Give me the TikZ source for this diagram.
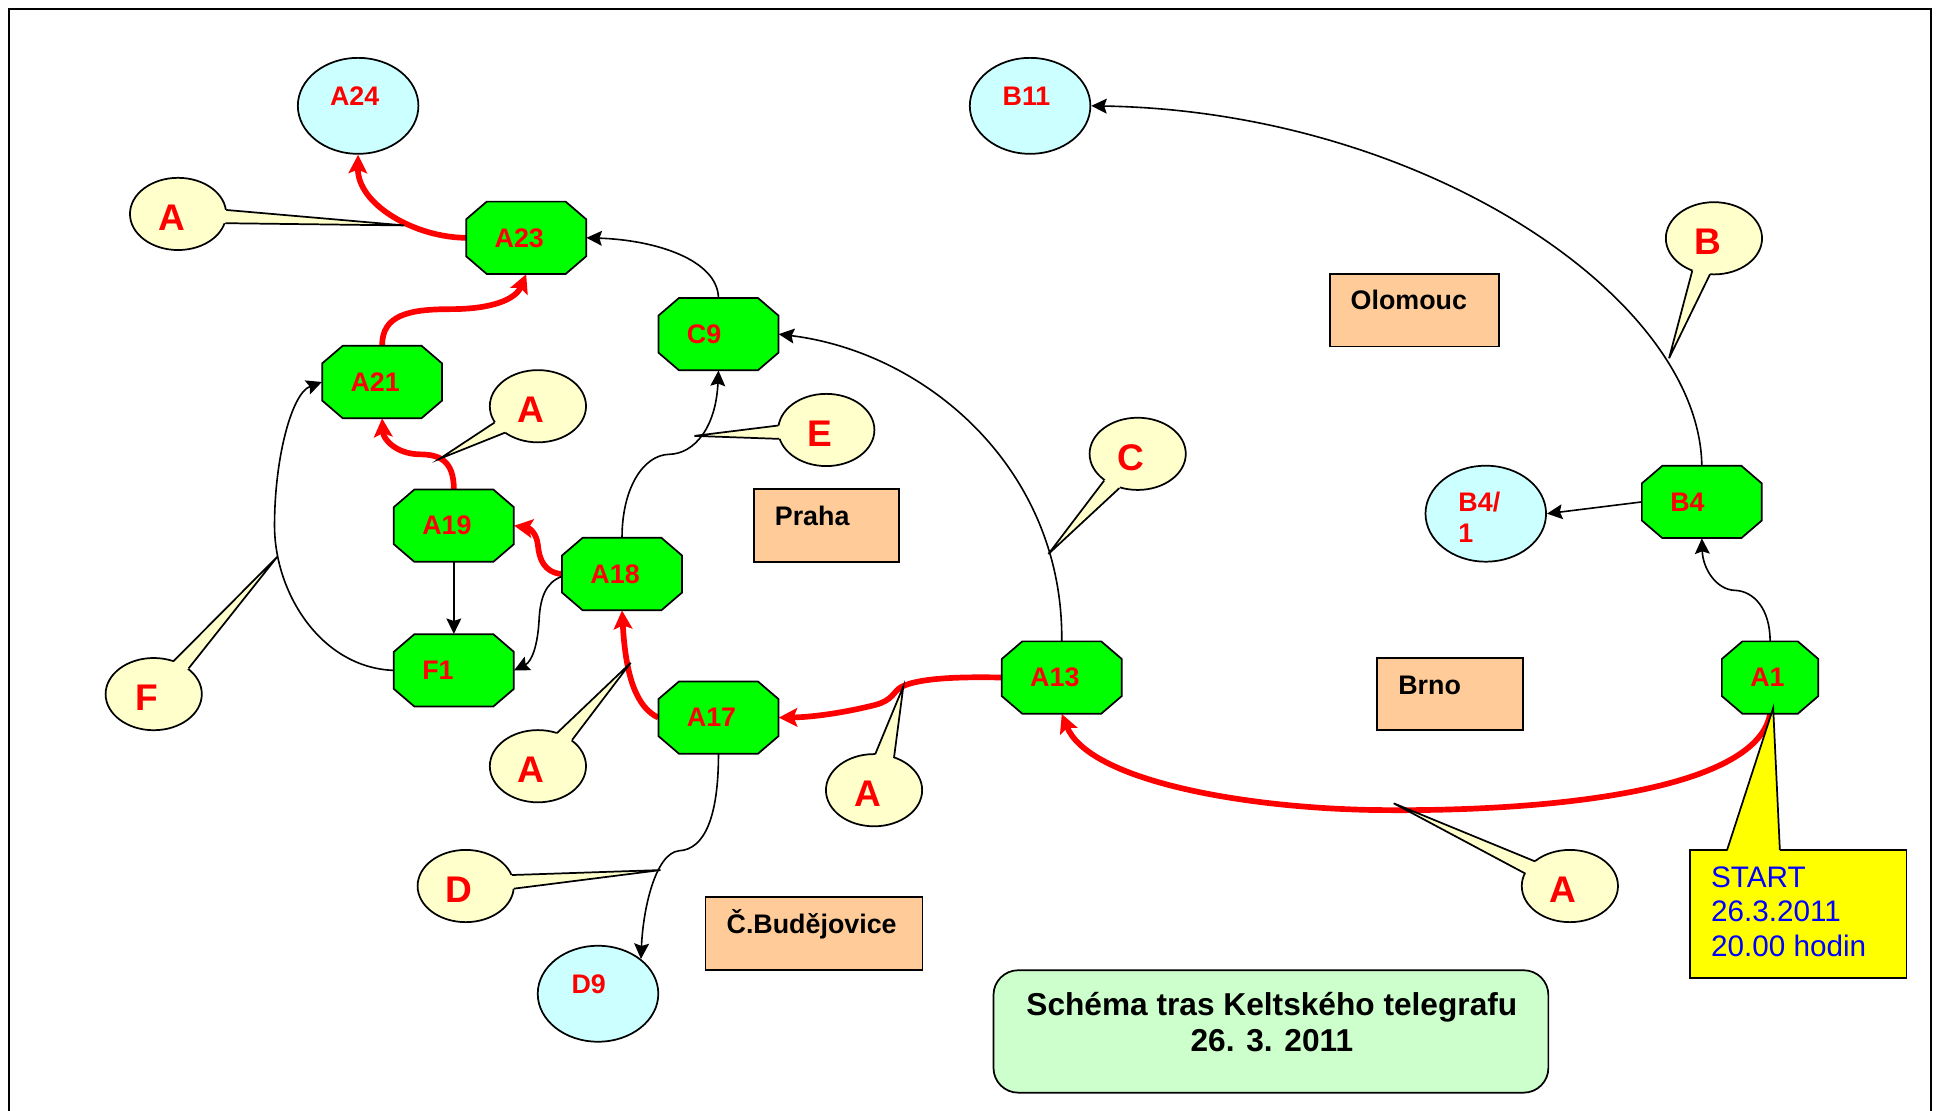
\documentclass[tikz,border=0pt]{standalone}
\usepackage{fontspec}
\setmainfont{Liberation Sans}
\usetikzlibrary{arrows.meta,shapes.geometric,calc}
\definecolor{octgreen}{HTML}{00FF00}
\definecolor{circfill}{HTML}{CCFFFF}
\definecolor{bubfill}{HTML}{FFFFCC}
\definecolor{cityfill}{HTML}{FFCC99}
\definecolor{titlefill}{HTML}{CCFFCC}
\definecolor{startfill}{HTML}{FFFF00}
\definecolor{startblue}{HTML}{0000FF}
\definecolor{lblred}{HTML}{FF0000}
\pgfdeclarelayer{bg}
\pgfsetlayers{bg,main}
\tikzset{
  octshape/.style={fill=octgreen, draw=black, line width=1.4pt, line join=miter},
  octbox/.style={rectangle, inner sep=0pt, minimum height=58.5pt},
  octtext/.style={anchor=west, inner sep=0pt, text=lblred, font=\fontsize{21.7}{26}\selectfont\bfseries},
  circ/.style={ellipse, fill=circfill, draw=black, line width=1.4pt, inner sep=0pt, minimum width=97.5pt, minimum height=77.6pt},
  circtext/.style={anchor=base west, inner sep=0pt, text=lblred, font=\fontsize{21.7}{24.5}\selectfont\bfseries},
  bub/.style={ellipse, fill=bubfill, draw=black, line width=1.4pt, inner sep=0pt, minimum width=77.8pt, minimum height=58.4pt},
  bubpoly/.style={fill=bubfill},
  bubline/.style={draw=black, line width=1.4pt},
  bubtext/.style={inner sep=0pt, text=lblred, font=\fontsize{30}{36}\selectfont\bfseries},
  city/.style={rectangle, fill=cityfill, draw=black, line width=1.4pt, inner sep=0pt},
  citytext/.style={anchor=base west, inner sep=0pt, font=\fontsize{21.7}{26}\selectfont\bfseries},
  redarr/.style={draw=red, line width=4.6pt, -{Stealth[length=15pt,width=15pt,inset=3pt]}},
  blackarr/.style={draw=black, line width=1.3pt, -{Stealth[length=12.5pt,width=12pt,inset=2pt]}},
  frameline/.style={draw=black, line width=1.4pt}
}
\newcommand\octo[5]{%
  \filldraw[octshape] (#2,#3) ++({-#4/2+16.6},-29.25) -- ++({#4-33.2},0) -- ++(16.6,14.25) -- ++(0,30) -- ++(-16.6,14.25) -- ++({-#4+33.2},0) -- ++(-16.6,-14.25) -- ++(0,-30) -- cycle;
  \node[octbox, minimum width=#4pt] (#1) at (#2,#3) {};
  \node[octtext] (#1t) at ([xshift=23pt]#1.west) {#5};
}
\newcommand\bubble[6]{%
  \node[bub] (#1) at (#2) {};
  \coordinate (#1a) at (#3);
  \coordinate (#1b) at (#4);
  \coordinate (#1p) at (#5);
  \fill[bubpoly] (#1.center) -- (#1a) -- (#1p) -- (#1b) -- cycle;
  \draw[bubline] (#1a) -- (#1p) -- (#1b);
  \node[bubtext] (#1l) at ([xshift=-5.3pt,yshift=-2.8pt]#1.center) {#6};
}
\begin{document}
\begin{tikzpicture}[x=1pt,y=-1pt]
\useasboundingbox (0,0) rectangle (1568,898.4);

% route nodes (octagons)
\octo{A23}{425.5}{192.3}{97}{A23}
\octo{C9}{581}{270.2}{97}{C9}
\octo{A21}{309}{308.9}{97}{A21}
\octo{A19}{367}{425.1}{97}{A19}
\octo{A18}{503}{464.2}{97}{A18}
\octo{F1}{367}{542.1}{97}{F1}
\octo{A17}{581}{580.3}{97}{A17}
\octo{A13}{858.6}{547.9}{97}{A13}
\octo{B4}{1376.2}{405.9}{97}{B4}
\octo{A1}{1431.4}{547.9}{78}{A1}

% end points (circles)
\node[circ] (A24) at (289.6,85.6) {};
\node[circtext] (A24t) at (266.7,85.2) {A24};
\node[circ] (B11) at (833,85.6) {};
\node[circtext] (B11t) at (810.6,85.2) {B11};
\node[circ] (B41) at (1201.5,415.4) {};
\node[circtext] (B41t) at (1179.2,414) {\begin{tabular}[t]{@{}l@{}}B4/\\1\end{tabular}};
\node[circ] (D9) at (483.6,803.6) {};
\node[circtext] (D9t) at (462,803) {D9};

% city boxes
\node[city, minimum width=136.7pt, minimum height=58.8pt] (Olo) at (1143.6,250.9) {};
\node[citytext] (Olot) at ($(Olo.north west)+(17.5,29.5)$) {Olomouc};
\node[city, minimum width=117.2pt, minimum height=58.7pt] (Pra) at (668.2,425) {};
\node[citytext] (Prat) at ($(Pra.north west)+(17.5,30.4)$) {Praha};
\node[city, minimum width=175.4pt, minimum height=58.7pt] (CB) at (658.3,754.9) {};
\node[citytext] (CBt) at ($(CB.north west)+(17.5,30.4)$) {Č.Budějovice};
\node[city, minimum width=118pt, minimum height=58pt] (Brn) at (1172.5,561.3) {};
\node[citytext] (Brnt) at ($(Brn.north west)+(17.8,30.4)$) {Brno};

% title
\node[rectangle, rounded corners=20pt, fill=titlefill, draw=black, line width=1.4pt, minimum width=448.7pt, minimum height=99pt] (title) at (1027.75,834.1) {};
\node[anchor=base, inner sep=0pt, font=\fontsize{25.6}{29}\selectfont\bfseries] (titlet) at (1028.5,821.3) {\begin{tabular}[t]{@{}c@{}}Schéma tras Keltského telegrafu\\26. 3. 2011\end{tabular}};

% connectors
\begin{pgfonlayer}{bg}
\draw[frameline] (7.2,898.4) -- (7.2,7.3) -- (1561.3,7.3) -- (1561.3,898.4);
% red route
\draw[redarr] (A1.south) .. controls (1420,640) and (1250,657) .. (1110,655) .. controls (1000,653) and (880,630) .. (A13.south);
\draw[redarr] (A13.west) .. controls (770,547) and (740,549) .. (728,556) .. controls (722,560) and (722,566) .. (708,570) .. controls (680,577) and (655,580) .. (A17.east);
\draw[redarr] (A17.west) .. controls (515,572) and (506,548) .. (A18.south);
\draw[redarr] (A18.west) .. controls (440,463) and (436,452) .. (435,441) .. controls (434,431) and (428,427) .. (A19.east);
\draw[redarr] (A19.north) .. controls (367,372) and (355,367.5) .. (339.2,367.4) .. controls (320,367) and (310,355) .. (A21.south);
\draw[redarr] (A21.north) .. controls (309,255) and (330,250) .. (364.5,250) .. controls (398,250) and (417,242) .. (A23.south);
\draw[redarr] (A23.west) .. controls (335,192) and (289,165) .. (A24.south);
% black branches
\draw[blackarr] (C9.north) .. controls (580,210) and (530,194) .. (A23.east);
\draw[blackarr] (A13.north) .. controls (860,380) and (750,285) .. (C9.east);
\draw[blackarr] (B4.north) .. controls (1374,240) and (1150,90) .. (B11.east);
\draw[blackarr] (A1.north) .. controls (1431.4,492) and (1418,478) .. (1403,477.4) .. controls (1388,477) and (1377,460) .. (B4.south);
\draw[blackarr] (B4.west) -- (B41.east);
\draw[blackarr] (A19.south) -- (F1.north);
\draw[blackarr] ([yshift=-2pt]A18.west) .. controls (441,471) and (437,484) .. (436,500) .. controls (435,522) and (430,535) .. (F1.east);
\draw[blackarr] (F1.west) .. controls (260,540) and (222,480) .. (222,425) .. controls (222,370) and (236,318) .. (A21.west);
\draw[blackarr] (A17.south) .. controls (581,660) and (570,687) .. (549,688) .. controls (530,690) and (520,735) .. (D9.39);
\draw[blackarr] (A18.north) .. controls (503,395) and (520,368) .. (541,367.4) .. controls (562,367) and (579,345) .. (C9.south);
\end{pgfonlayer}

% callouts
\bubble{qA1}{144,173}{183,169.8}{182.2,180.5}{327,182.3}{A}
\bubble{qA2}{435,328.5}{399.9,341.7}{408.6,349.8}{355.5,371}{A}
\bubble{qF}{124.3,561.3}{140,535}{152.6,540.4}{224.5,449.9}{F}
\bubble{qA3}{435,619.6}{450.4,592.8}{462.7,598.3}{510,536}{A}
\bubble{qD}{376.6,716.5}{413.9,707.6}{415.8,718.6}{534.1,703.6}{D}
\bubble{qE}{668.2,347.7}{629.4,344.1}{630.2,354.9}{561.5,352.5}{E}
\bubble{qC}{920,367}{892.9,388.6}{905.1,394.8}{847.8,448}{C}
\bubble{qA4}{706.8,639}{707.7,610}{722.9,613}{730.5,555}{A}
\bubble{qA5}{1269.5,716.5}{1233.6,706.5}{1241.4,696.6}{1127,649.6}{A}
\bubble{qB}{1386,192.7}{1368.5,218.8}{1382.8,221.8}{1349.7,289.7}{B}

% start note
\node[rectangle, fill=startfill, draw=black, line width=1.4pt, minimum width=175.2pt, minimum height=103.4pt] (S) at (1454,739.1) {};
\coordinate (Sa) at (1396.6,687.4);
\coordinate (Sb) at (1439.3,687.4);
\coordinate (Sp) at (1433.9,572.6);
\fill[startfill] (S.center) -- (Sa) -- (Sp) -- (Sb) -- cycle;
\draw[bubline] (Sa) -- (Sp) -- (Sb);
\node[anchor=base west, inner sep=0pt, text=startblue, font=\fontsize{24}{28}\selectfont] (St) at (1383.5,717.5) {\begin{tabular}[t]{@{}l@{}}START\\26.3.2011\\20.00 hodin\end{tabular}};
\end{tikzpicture}
\end{document}
